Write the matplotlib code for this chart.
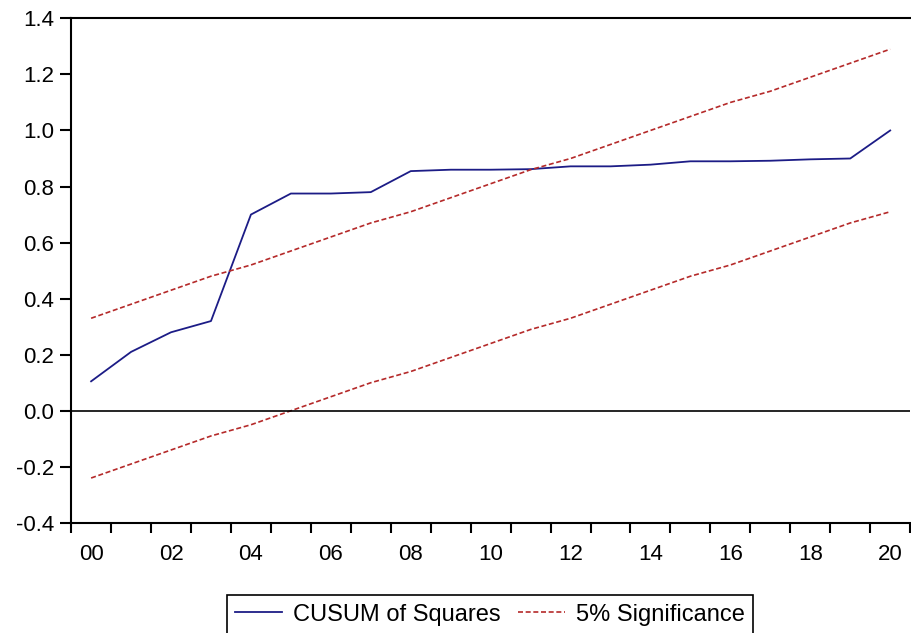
import matplotlib.pyplot as plt
from matplotlib.ticker import FixedLocator, NullFormatter

plt.rcParams['font.family'] = ['Liberation Sans', 'DejaVu Sans']

years = list(range(2000, 2021))
year_labels = ["00", "02", "04", "06", "08", "10", "12", "14", "16", "18", "20"]

cusum_sq = [0.105, 0.21, 0.28, 0.32, 0.70, 0.775, 0.775, 0.78, 0.855, 0.86, 0.86,
            0.862, 0.872, 0.872, 0.878, 0.89, 0.89, 0.892, 0.897, 0.90, 1.0]
upper = [0.33, 0.38, 0.43, 0.48, 0.52, 0.57, 0.62, 0.67, 0.71, 0.76, 0.81,
         0.86, 0.90, 0.95, 1.00, 1.05, 1.10, 1.14, 1.19, 1.24, 1.29]
lower = [-0.24, -0.19, -0.14, -0.09, -0.05, 0.00, 0.05, 0.10, 0.14, 0.19, 0.24,
         0.29, 0.33, 0.38, 0.43, 0.48, 0.52, 0.57, 0.62, 0.67, 0.71]

fig = plt.figure(figsize=(9.12, 6.33), dpi=100)
ax = fig.add_axes([0.078, 0.174, 0.92, 0.797])

ax.plot(years, cusum_sq, color="#1c1c86", lw=1.3, label="CUSUM of Squares")
ax.plot(years, upper, color="#b52a2a", lw=1.2, ls=(0, (3, 1.6)), label="5% Significance")
ax.plot(years, lower, color="#b52a2a", lw=1.2, ls=(0, (3, 1.6)))
ax.axhline(0, color="black", lw=1.2)

ax.set_xlim(1999.5, 2020.5)
ax.set_ylim(-0.4, 1.4)

# labels sit in the middle of each year, ticks on the year boundaries
ax.set_xticks(years[::2])
ax.set_xticklabels(year_labels)
ax.xaxis.set_minor_locator(FixedLocator([y - 0.5 for y in years] + [2020.5]))
ax.xaxis.set_minor_formatter(NullFormatter())
ax.tick_params(axis="x", which="major", length=0, pad=15, labelsize=16)
ax.tick_params(axis="x", which="minor", length=7, width=1.5, direction="out")

ax.set_yticks([-0.4, -0.2, 0.0, 0.2, 0.4, 0.6, 0.8, 1.0, 1.2, 1.4])
ax.set_yticklabels(["-0.4", "-0.2", "0.0", "0.2", "0.4", "0.6", "0.8", "1.0", "1.2", "1.4"])
ax.tick_params(axis="y", length=8, width=1.5, direction="out", pad=4, labelsize=16)

ax.spines["right"].set_visible(False)
for s in ["left", "top", "bottom"]:
    ax.spines[s].set_linewidth(1.5)

leg = ax.legend(loc="upper center", bbox_to_anchor=(0.537, 0.0595),
                bbox_transform=fig.transFigure, ncol=2, fancybox=False,
                edgecolor="black", framealpha=1, fontsize=17,
                handlelength=2.0, columnspacing=0.75, handletextpad=0.45,
                borderpad=0.35, borderaxespad=0)
leg.get_frame().set_linewidth(1.2)

fig.savefig("out.png", dpi=100)
